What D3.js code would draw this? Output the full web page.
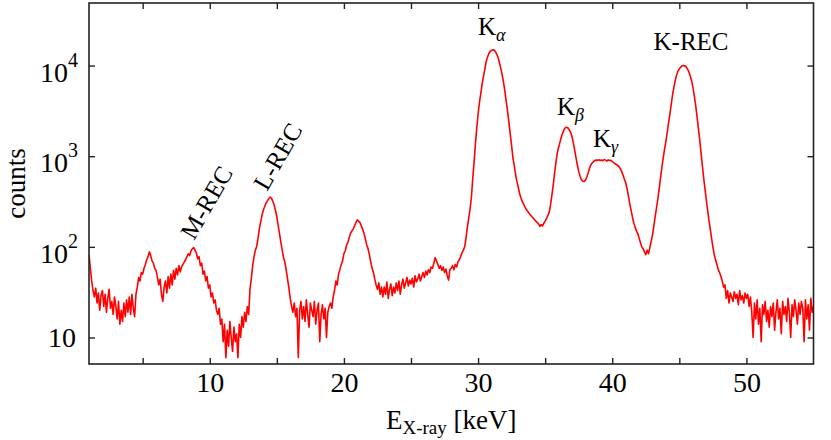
<!DOCTYPE html>
<html>
<head>
<meta charset="utf-8">
<script src="https://cdn.jsdelivr.net/npm/d3@7"></script>
<style>
  body { margin: 0; background: #fff; }
  svg { display: block; }
  text { font-family: "Liberation Serif", "Times New Roman", serif; fill: #000; }
  .axis line { stroke: #222; stroke-width: 1.4px; }
  .axis path { display: none; }
</style>
</head>
<body>
<div id="graph"></div>
<script>
// spectrum bins: first bin centre and bin width in keV
var binStart = 1.0,
    binWidth = 0.1;

// counts per bin, one row per keV (k.0 ... k.9)
var counts = [
  82, 58, 42, 33, 28, 35, 24, 31, 20, 29,            // 1
  33, 22, 30, 19, 27, 34, 21, 25, 18, 28,            // 2
  22, 16, 25, 14, 20, 15, 24, 17, 26, 19,            // 3
  28, 18, 30, 21, 17, 30, 36, 46, 42, 52,            // 4
  50, 58, 64, 72, 78, 88, 80, 70, 66, 58,            // 5
  55, 46, 38, 44, 30, 25, 36, 42, 31, 47,            // 6
  35, 50, 38, 55, 44, 58, 49, 62, 53, 60,            // 7
  64, 68, 72, 78, 84, 80, 90, 95, 98, 92,            // 8
  86, 74, 78, 62, 66, 50, 54, 42, 47, 35,            // 9
  38, 28, 31, 24, 26, 20, 18, 21, 14, 16,            // 10
  9, 14, 6, 12, 8, 15, 10, 7, 13, 9,                 // 11
  11, 6, 14, 10, 17, 13, 19, 15, 22, 18,             // 12
  34, 45, 62, 78, 92, 101, 125, 160, 190, 225,       // 13
  255, 280, 305, 322, 340, 353, 345, 318, 290, 250,  // 14
  215, 172, 140, 112, 92, 76, 68, 55, 44, 35,        // 15
  27, 22, 19, 24, 17, 21, 6, 20, 25, 16,             // 16
  22, 15, 26, 18, 13, 24, 20, 17, 25, 14,            // 17
  20, 24, 9, 18, 23, 16, 21, 10, 19, 22,             // 18
  24, 21, 28, 33, 42, 38, 50, 56, 64, 70,            // 19
  84, 90, 105, 112, 128, 142, 150, 158, 172, 185,    // 20
  198, 192, 185, 170, 156, 140, 122, 105, 95, 82,    // 21
  68, 58, 52, 44, 38, 34, 40, 30, 36, 28,            // 22
  36, 30, 41, 27, 34, 39, 29, 36, 31, 40,            // 23
  33, 42, 30, 38, 44, 35, 40, 46, 37, 43,            // 24
  39, 45, 36, 48, 41, 44, 50, 42, 47, 52,            // 25
  46, 54, 49, 56, 52, 60, 58, 66, 76, 70,            // 26
  64, 58, 62, 55, 60, 52, 57, 48, 43, 56,            // 27
  58, 62, 56, 64, 60, 68, 72, 78, 86, 92,            // 28
  100, 125, 165, 205, 260, 350, 560, 850, 1350, 2050,              // 29
  2900, 3900, 4900, 6200, 7600, 9000, 11000, 12400, 13500, 14300,  // 30
  14700, 14950, 14800, 14200, 13200, 12200, 10600, 9200, 7800, 6500, // 31
  5200, 4000, 3100, 2350, 1750, 1300, 950, 780, 620, 520,          // 32
  450, 385, 345, 315, 295, 275, 258, 245, 235, 225,  // 33
  216, 208, 200, 192, 186, 180, 168, 176, 170, 182,  // 34
  192, 205, 222, 240, 290, 370, 480, 640, 850, 1080, // 35
  1250, 1420, 1620, 1800, 1950, 2060, 2090, 2050, 1950, 1820,      // 36
  1650, 1400, 1170, 960, 800, 680, 600, 550, 530, 525,             // 37
  545, 590, 650, 730, 800, 840, 870, 895, 905, 900,  // 38
  915, 895, 910, 890, 920, 905, 885, 910, 895, 900,  // 39
  870, 850, 830, 810, 790, 770, 730, 680, 620, 560,  // 40
  510, 440, 370, 300, 255, 215, 185, 165, 150, 140,  // 41
  125, 112, 100, 95, 88, 82, 92, 84, 98, 115,        // 42
  135, 170, 215, 270, 340, 440, 580, 760, 960, 1200, // 43
  1450, 1850, 2350, 2950, 3750, 4800, 5800, 6900, 7900, 8700,      // 44
  9200, 9600, 9900, 10000, 9950, 9700, 9200, 8600, 7800, 6900,     // 45
  5900, 4800, 3800, 2900, 2150, 1600, 1150, 830, 600, 450,         // 46
  340, 260, 200, 160, 125, 100, 82, 72, 64, 56,      // 47
  52, 47, 42, 36, 38, 27, 33, 24, 31, 28,            // 48
  25, 32, 27, 30, 23, 33, 26, 29, 24, 31,            // 49
  27, 30, 22, 28, 19, 10, 24, 16, 26, 14,            // 50
  21, 9, 23, 18, 25, 15, 20, 13, 22, 17,             // 51
  24, 12, 19, 26, 16, 21, 11, 25, 18, 22,            // 52
  15, 27, 19, 10, 23, 17, 26, 20, 14, 24,            // 53
  18, 25, 21, 9, 26, 16, 23, 12, 27, 19,             // 54
  22                                                 // 55
];

// axis ticks
var xTicks = [5, 10, 15, 20, 25, 30, 35, 40, 45, 50],
    xLabelled = [10, 20, 30, 40, 50],
    yTicks = [10, 100, 1000, 10000];

// peak labels (anchor in data coordinates: keV, counts)
var peakLabels = [
  {base: "K", sub: "\u03b1", e: 29.99, c: 21700},
  {base: "K", sub: "\u03b2", e: 35.88, c: 2850},
  {base: "K", sub: "\u03b3", e: 38.56, c: 1260},
  {base: "K-REC", sub: "", e: 45.87, c: 14850}
];
var recLabels = [
  {text: "M-REC", e: 8.83, c: 116},
  {text: "L-REC", e: 14.27, c: 403}
];

// set the dimensions and margins of the graph
var margin = {top: 3, right: 17.5, bottom: 76, left: 89},
    width = 831 - margin.left - margin.right,
    height = 440 - margin.top - margin.bottom;

// set the ranges
var x = d3.scaleLinear().domain([1, 55]).range([0, width]);
var y = d3.scaleLog().domain([5.1, 49000]).range([height, 0]);

var data = counts.map(function(c, i) {
  return {e: binStart + i * binWidth, c: c};
});

var valueline = d3.line()
    .x(function(d) { return x(d.e); })
    .y(function(d) { return y(d.c); });

var svg = d3.select("#graph").append("svg")
    .attr("width", 831)
    .attr("height", 440)
  .append("g")
    .attr("transform", "translate(" + margin.left + "," + margin.top + ")");

svg.append("clipPath")
    .attr("id", "clip")
  .append("rect")
    .attr("width", width)
    .attr("height", height);

// spectrum
svg.append("path")
    .datum(data)
    .attr("clip-path", "url(#clip)")
    .attr("fill", "none")
    .attr("stroke", "#ff0000")
    .attr("stroke-width", 1.6)
    .attr("stroke-linejoin", "round")
    .attr("d", valueline);

// axes, ticks pointing inwards on all four sides
svg.append("g")
    .attr("class", "axis")
    .attr("transform", "translate(0," + height + ")")
    .call(d3.axisBottom(x).tickValues(xTicks).tickSize(-6).tickPadding(8)
      .tickFormat(function(d) { return xLabelled.indexOf(d) >= 0 ? d : ""; }))
    .selectAll("text")
      .style("font-size", "28px");

svg.append("g")
    .attr("class", "axis")
    .call(d3.axisTop(x).tickValues(xTicks).tickSize(-6).tickFormat(""));

svg.append("g")
    .attr("class", "axis")
    .call(d3.axisLeft(y).tickValues(yTicks).tickSize(-6).tickFormat(""));

svg.append("g")
    .attr("class", "axis")
    .attr("transform", "translate(" + width + ",0)")
    .call(d3.axisRight(y).tickValues(yTicks).tickSize(-6).tickFormat(""));

// frame
svg.append("rect")
    .attr("width", width)
    .attr("height", height)
    .attr("fill", "none")
    .attr("stroke", "#222")
    .attr("stroke-width", 1.6);

// y tick labels as powers of ten
yTicks.forEach(function(t) {
  var p = Math.round(Math.log10(t));
  var lab = svg.append("text")
      .attr("text-anchor", "end")
      .style("font-size", "28px");
  if (p === 1) {
    lab.attr("x", -13).attr("y", y(t) + 10).text("10");
  } else {
    lab.attr("x", -11).attr("y", y(t) + 16).text("10");
    lab.append("tspan")
        .attr("dy", -15)
        .style("font-size", "20px")
        .text(p);
  }
});

// axis titles
svg.append("text")
    .attr("transform", "translate(-64," + (height / 2) + ") rotate(-90)")
    .attr("text-anchor", "middle")
    .style("font-size", "27px")
    .text("counts");

var xt = svg.append("text")
    .attr("x", width / 2)
    .attr("y", height + 65)
    .attr("text-anchor", "middle")
    .style("font-size", "27px");
xt.append("tspan").text("E");
xt.append("tspan").attr("dy", 5).style("font-size", "19px").text("X-ray");
xt.append("tspan").attr("dy", -5).text(" [keV]");

// peak annotations
peakLabels.forEach(function(p) {
  var t = svg.append("text")
      .attr("x", x(p.e))
      .attr("y", y(p.c))
      .attr("text-anchor", p.sub ? "start" : "middle")
      .style("font-size", "25px");
  t.append("tspan").text(p.base);
  if (p.sub) {
    t.append("tspan")
        .attr("dy", 6)
        .style("font-size", "18px")
        .style("font-style", "italic")
        .text(p.sub);
  }
});

recLabels.forEach(function(r) {
  svg.append("text")
      .attr("transform", "translate(" + x(r.e) + "," + y(r.c) + ") rotate(-60)")
      .style("font-size", "25px")
      .text(r.text);
});
</script>
</body>
</html>
